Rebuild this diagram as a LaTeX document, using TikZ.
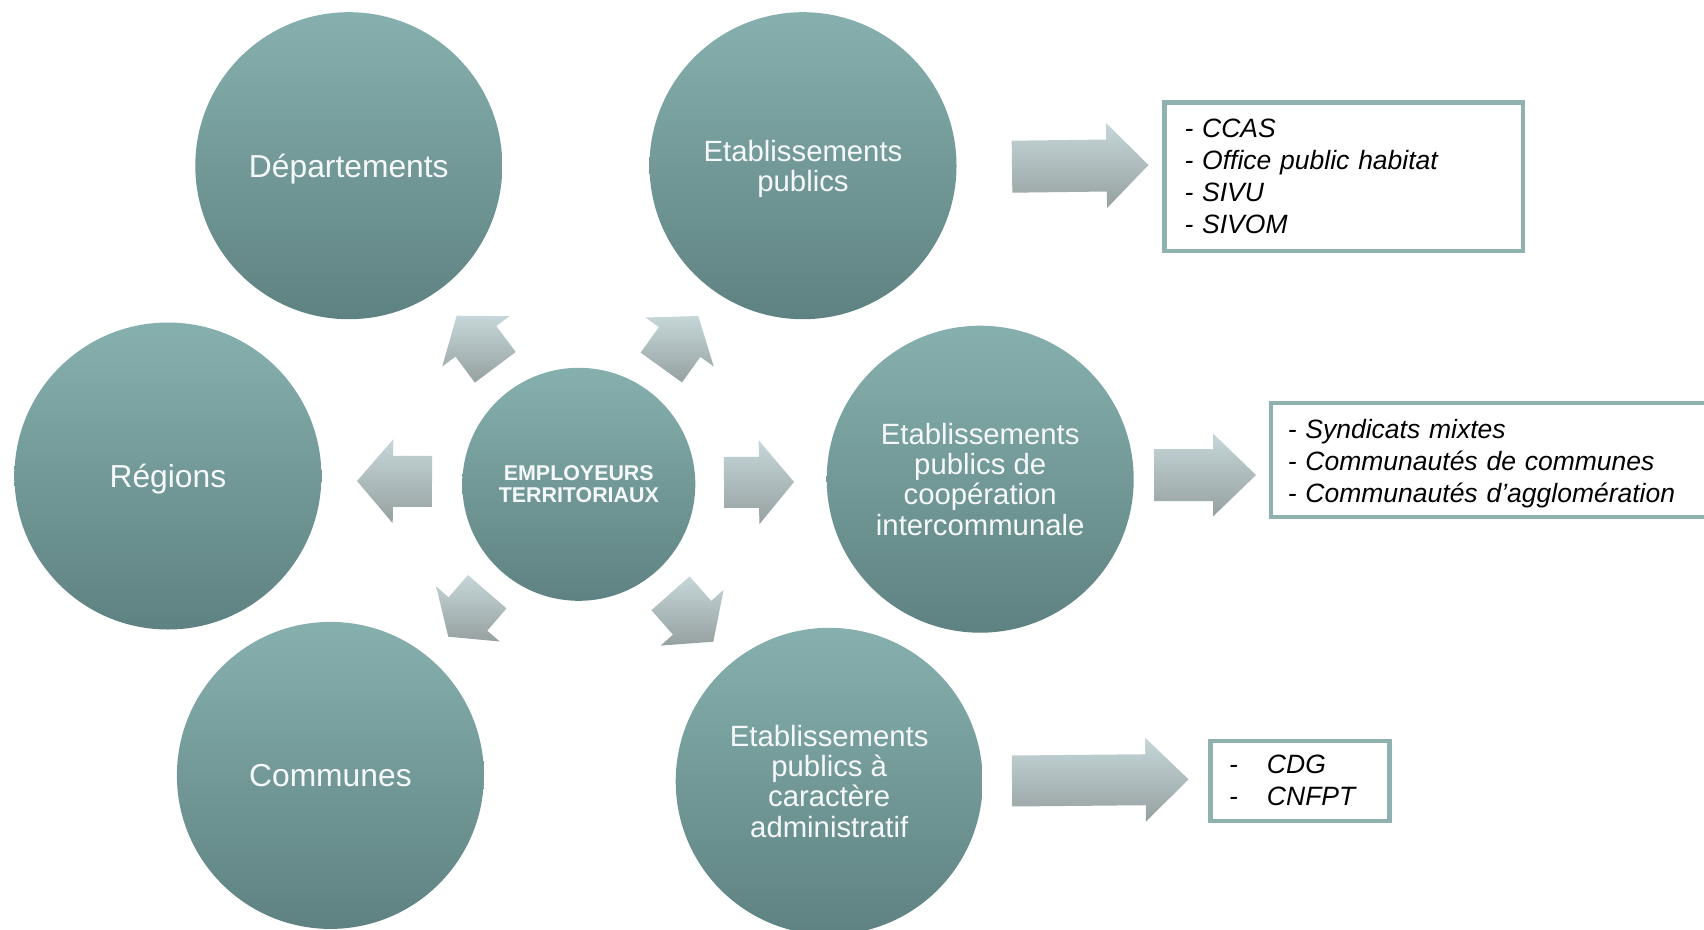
\documentclass[tikz,border=0pt]{standalone}
\usepackage{fontspec}
\setmainfont{Liberation Sans}
\usetikzlibrary{calc}
\definecolor{circtop}{RGB}{134,176,174}
\definecolor{circbot}{RGB}{94,130,129}
\definecolor{arrtop}{RGB}{198,215,217}
\definecolor{arrbot}{RGB}{150,160,160}
\definecolor{boxline}{RGB}{143,177,176}
\definecolor{circtext}{RGB}{246,249,249}
\tikzset{
  bigcirc/.style={circle, minimum size=307pt, inner sep=0pt, top color=circtop, bottom color=circbot, draw=none, text=circtext, align=center},
  onefont/.style={font=\fontsize{31.8}{33}\selectfont},
  multifont/.style={font=\fontsize{29.3}{30.4}\selectfont},
  centrecirc/.style={circle, minimum size=233pt, inner sep=0pt, top color=circtop, bottom color=circbot, draw=none, text=circtext, align=center, font=\bfseries\fontsize{21.4}{21.7}\selectfont},
  arrowshade/.style={top color=arrtop, bottom color=arrbot, draw=none},
  listbox/.style={draw=boxline, line width=4.5pt, fill=white, rectangle, align=left, font=\itshape\fontsize{26.5}{32}\selectfont, text=black, inner ysep=0pt}
}
\newcommand\myblockarrow[5]{%
  \coordinate (ha) at ($(#2)!#5!(#1)$);
  \path[arrowshade] ($(#1)!#3!90:(#2)$) -- ($(ha)!#3!90:(#2)$) -- ($(ha)!#4!90:(#2)$) -- (#2)
    -- ($(ha)!#4!-90:(#2)$) -- ($(ha)!#3!-90:(#2)$) -- ($(#1)!#3!-90:(#2)$) -- cycle;
}
\begin{document}
\begin{tikzpicture}[x=1pt,y=-1pt]
\useasboundingbox[fill=white] (0,0) rectangle (1704,929);
% circles
\node[bigcirc, onefont, text depth=0pt] (dep) at (348.8,165.7) {Départements};
\node[bigcirc, multifont, text depth=0pt] (ep) at (803,165.7) {Etablissements\\publics};
\node[bigcirc, onefont, text depth=0pt] (reg) at (167.9,476) {Régions};
\node[bigcirc, multifont] (epci) at (980.2,479.2) {Etablissements\\publics de\\coopération\\intercommunale};
\node[bigcirc, onefont] (com) at (330.4,775.4) {Communes};
\node[bigcirc, multifont] (epa) at (829.2,781.3) {Etablissements\\publics à\\caractère\\administratif};
\node[centrecirc] (emp) at (578.8,484.3) {EMPLOYEURS\\TERRITORIAUX};
% small arrows around the centre
\coordinate (sLb) at (432,481.5); \coordinate (sLt) at (357,481);
\coordinate (sRb) at (724,482.5); \coordinate (sRt) at (794,482);
\coordinate (sULb) at (495.3,367.3); \coordinate (sULt) at (456.7,315.7);
\coordinate (sURb) at (661.3,367.5); \coordinate (sURt) at (698.3,316);
\coordinate (sLLb) at (487.2,591.7); \coordinate (sLLt) at (448.3,636.7);
\coordinate (sLRb) at (670.5,593.3); \coordinate (sLRt) at (713.3,641.7);
\myblockarrow{sLb}{sLt}{25.5pt}{42pt}{36pt}
\myblockarrow{sRb}{sRt}{25.5pt}{42pt}{35pt}
\myblockarrow{sULb}{sULt}{25.5pt}{42pt}{32pt}
\myblockarrow{sURb}{sURt}{25.5pt}{42pt}{32pt}
\myblockarrow{sLLb}{sLLt}{25.5pt}{42pt}{30pt}
\myblockarrow{sLRb}{sLRt}{25.5pt}{42pt}{32pt}
% large arrows to the lists
\coordinate (b1b) at (1012,166.7); \coordinate (b1t) at (1148.5,165);
\coordinate (b2b) at (1154,475); \coordinate (b2t) at (1256,475);
\coordinate (b3b) at (1012,781); \coordinate (b3t) at (1188.5,779.3);
\myblockarrow{b1b}{b1t}{26pt}{42.5pt}{42pt}
\myblockarrow{b2b}{b2t}{26pt}{41.5pt}{43pt}
\myblockarrow{b3b}{b3t}{25.5pt}{42pt}{43pt}
% list boxes
\node[listbox, minimum width=358.5pt, minimum height=148.5pt, inner xsep=20.25pt, text width=318pt] (box1) at (1343.5,176.5)
  {- CCAS\\- Office public habitat\\- SIVU\\- SIVOM};
\node[listbox, minimum width=449.25pt, minimum height=114pt, inner xsep=17pt, text width=415.25pt] (box2) at (1495.4,459.75)
  {\rule{0pt}{26pt}- Syndicats mixtes\\- Communautés de communes\\- Communautés d’agglomération};
\node[listbox, minimum width=179pt, minimum height=80pt, inner xsep=18.3pt, text width=142.4pt] (box3) at (1300.2,780.8)
  {\makebox[38pt][l]{-}CDG\\\makebox[38pt][l]{-}CNFPT};
\end{tikzpicture}
\end{document}
